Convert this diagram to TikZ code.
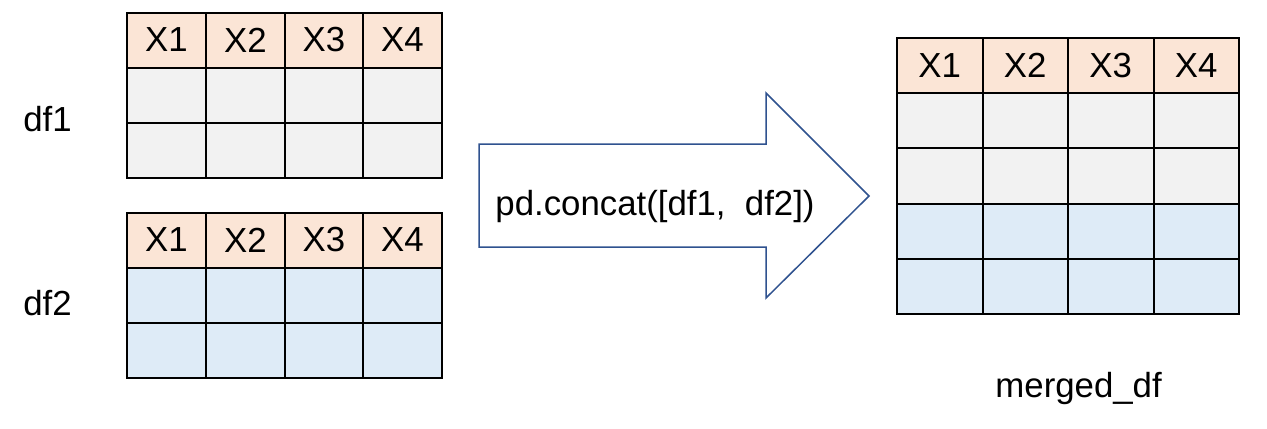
\documentclass[tikz,border=0pt]{standalone}
\usepackage{fontspec}
\setmainfont{Liberation Sans}
\definecolor{hdr}{HTML}{FBE5D6}
\definecolor{grayrow}{HTML}{F2F2F2}
\definecolor{bluerow}{HTML}{DEEBF7}
\definecolor{arrowline}{HTML}{2F528F}
\begin{document}
\begin{tikzpicture}[x=0.5pt,y=-0.5pt,
  every node/.style={font=\fontsize{17.4}{20}\selectfont},
  cell/.style={draw=black, line width=1pt, inner sep=0pt, minimum height=27.5pt},
  smallcell/.style={cell, minimum width=39.5pt},
  bigcell/.style={cell, minimum width=42.75pt, minimum height=27.6pt},
  hcell/.style={fill=hdr},
  gcell/.style={fill=grayrow},
  bcell/.style={fill=bluerow},
  label/.style={anchor=base west, inner sep=0pt},
  bigarrow/.style={draw=arrowline, fill=white, line width=0.75pt, line join=miter}]
\useasboundingbox (0,0) rectangle (1267,428);
% df1
\foreach \x [count=\i] in {166.5,245.5,324,402.5} {
  \node[smallcell,hcell] (d1h\i) at (\x,40) {X\i};
  \node[smallcell,gcell] (d1a\i) at (\x,95) {};
  \node[smallcell,gcell] (d1b\i) at (\x,150) {};
}
% df2
\foreach \x [count=\i] in {166.5,245.5,324,402.5} {
  \node[smallcell,hcell] (d2h\i) at (\x,240) {X\i};
  \node[smallcell,bcell] (d2a\i) at (\x,295) {};
  \node[smallcell,bcell] (d2b\i) at (\x,350) {};
}
% merged
\foreach \x [count=\i] in {939.75,1025.25,1110.75,1196.25} {
  \node[bigcell,hcell] (mh\i) at (\x,65.6) {X\i};
  \node[bigcell,gcell] (ma\i) at (\x,120.8) {};
  \node[bigcell,gcell] (mb\i) at (\x,176) {};
  \node[bigcell,bcell] (mc\i) at (\x,231.2) {};
  \node[bigcell,bcell] (md\i) at (\x,286.4) {};
}
% labels
\node[label] (l1) at (23,131) {df1};
\node[label] (l2) at (23,315) {df2};
\node[label] (lm) at (995,397) {merged\_df};
% arrow
\coordinate (a1) at (479,144);
\coordinate (a2) at (766,144);
\coordinate (a3) at (766,93);
\coordinate (a4) at (869,196);
\coordinate (a5) at (766,298);
\coordinate (a6) at (766,247);
\coordinate (a7) at (479,247);
\draw[bigarrow] (a1) -- (a2) -- (a3) -- (a4) -- (a5) -- (a6) -- (a7) -- cycle;
\node[label] (cmd) at (495,215) {pd.concat([df1,\ \ df2])};
\end{tikzpicture}
\end{document}
